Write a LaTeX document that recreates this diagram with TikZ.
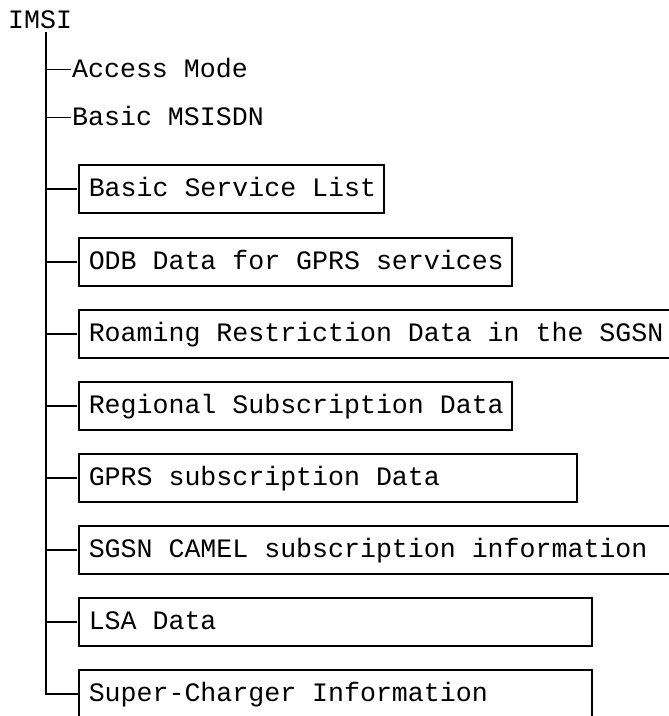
\documentclass[tikz,border=0pt]{standalone}
\usepackage{fontspec}
\setmonofont{Liberation Mono}
\newcommand\boxtxt[1]{\spaceskip=0pt\xspaceskip=0pt\relax\mbox{#1}}
\begin{document}
\begin{tikzpicture}[x=1pt,y=-1pt,
  every node/.style={font=\ttfamily\fontsize{26.6}{30}\selectfont},
  lbl/.style={anchor=base west,inner sep=0pt,text height=15.2pt,text depth=0pt},
  box/.style={draw,line width=1.5pt,anchor=west,inner xsep=10pt,inner ysep=0pt,
    minimum height=48pt,align=left,text height=15.2pt,text depth=0pt},
  tree/.style={line width=1.3pt}]
\path[use as bounding box,clip] (0,0) rectangle (669,716);
\fill[white] (0,0) rectangle (669,716);
\node[lbl] (imsi) at (8,28) {IMSI};
\coordinate (trunk) at (46,32);
\node[lbl] (am) at (72,77) {Access Mode};
\node[lbl] (msisdn) at (72,125) {Basic MSISDN};
\node[box,text width=285pt] (bsl) at (78,189) {\boxtxt{Basic Service List}};
\node[box,text width=413pt] (odb) at (78,262) {\boxtxt{ODB Data for GPRS services}};
\node[box,text width=592pt] (roam) at (78,334) {\boxtxt{Roaming Restriction Data in the SGSN}};
\node[box,text width=413pt] (reg) at (78,406) {\boxtxt{Regional Subscription Data}};
\node[box,text width=478pt] (gprs) at (78,478) {\boxtxt{GPRS subscription Data}};
\node[box,text width=592pt] (camel) at (78,550) {\boxtxt{SGSN CAMEL subscription information}};
\node[box,text width=493pt] (lsa) at (78,622) {\boxtxt{LSA Data}};
\node[box,text width=493pt] (super) at (78,694) {\boxtxt{Super-Charger Information}};
\draw[tree] (trunk) |- (super.west);
\foreach \n in {am,msisdn,bsl,odb,roam,reg,gprs,camel,lsa}
  \draw[tree] (trunk |- \n.west) -- ([xshift=-1pt]\n.west);
\end{tikzpicture}
\end{document}
